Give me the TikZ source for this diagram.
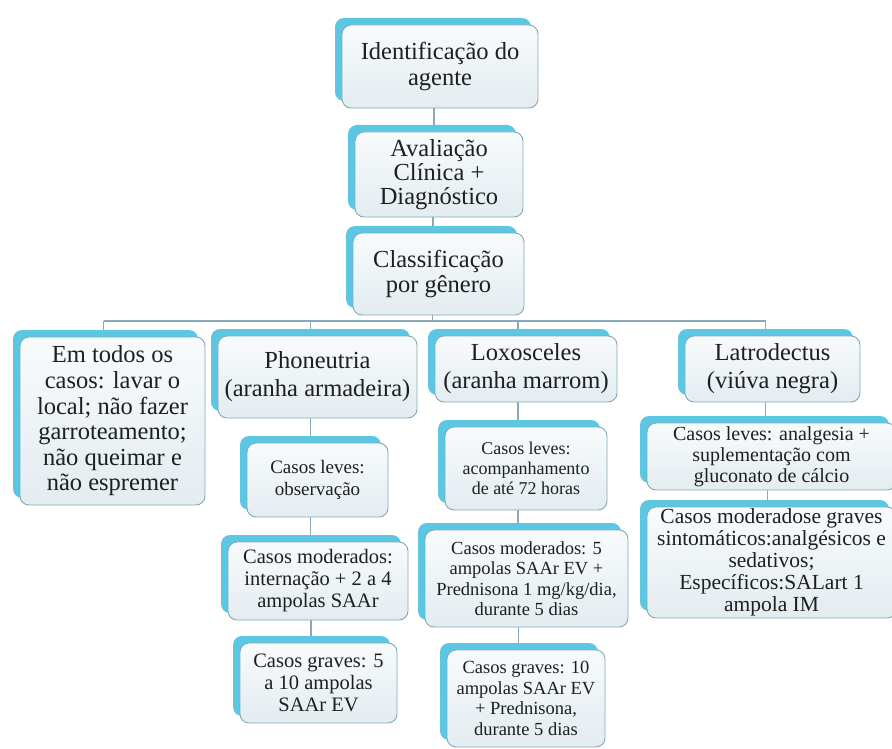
\documentclass[tikz,border=0pt]{standalone}
\usepackage{fontspec}
\setmainfont{Liberation Serif}
\usetikzlibrary{shadows,backgrounds}
\definecolor{bordc}{HTML}{86A9B8}
\definecolor{facetop}{HTML}{F8FBFC}
\definecolor{facebot}{HTML}{E3ECF0}
\definecolor{shadc}{HTML}{5CC7E2}
\definecolor{linec}{HTML}{8AA9B8}
\definecolor{txtc}{HTML}{1F1F1F}
\tikzset{
  box/.style={draw=bordc, line width=0.9pt, rounded corners=9pt,
    top color=facetop, bottom color=facebot, text=txtc, align=center,
    inner sep=1pt,
    general shadow={fill=shadc, shadow xshift=-7pt, shadow yshift=7pt}},
  bigf/.style={font=\fontsize{24.5}{25.5}\selectfont},
  hdrf/.style={font=\fontsize{24.5}{28}\selectfont},
  sz/.style 2 args={minimum width=#1, minimum height=#2},
  conn/.style={draw=linec, line width=1.3pt},
}
\begin{document}
\begin{tikzpicture}[x=1pt,y=-1pt]
\useasboundingbox (0,0) rectangle (892,749);
% top column
\node[box, bigf, sz={196pt}{83pt}] (id) at (440,66.5) {Identificação do\\agente};
\node[box, font=\fontsize{24.5}{24}\selectfont, sz={168pt}{85pt}] (av) at (439,174.5) {Avaliação\\Clínica +\\Diagnóstico};
\node[box, bigf, sz={171pt}{82pt}] (cl) at (438.5,274) {Classificação\\por gênero};
% second row
\node[box, font=\fontsize{24.5}{25.6}\selectfont, sz={185pt}{168pt}] (em) at (112.5,421) {Em todos os\\casos: lavar o\\local; não fazer\\garroteamento;\\não queimar e\\não espremer};
\node[box, hdrf, sz={199pt}{82pt}] (ph) at (317.5,377) {Phoneutria\\(aranha armadeira)};
\node[box, hdrf, sz={182pt}{66pt}] (lo) at (526,369) {Loxosceles\\(aranha marrom)};
\node[box, hdrf, sz={175pt}{66pt}] (la) at (772.5,369) {Latrodectus\\(viúva negra)};
% Phoneutria column
\node[box, font=\fontsize{19}{22}\selectfont, sz={141pt}{74pt}] (ph1) at (317.5,480) {Casos leves:\\observação};
\node[box, font=\fontsize{20.5}{22}\selectfont, sz={180pt}{78pt}] (ph2) at (318,581) {Casos moderados:\\internação + 2 a 4\\ampolas SAAr};
\node[box, font=\fontsize{20.5}{22}\selectfont, sz={157pt}{80pt}] (ph3) at (318.5,683) {Casos graves: 5\\a 10 ampolas\\SAAr EV};
% Loxosceles column
\node[box, font=\fontsize{18}{20}\selectfont, sz={162pt}{83pt}] (lo1) at (526,468.5) {Casos leves:\\acompanhamento\\de até 72 horas};
\node[box, font=\fontsize{18.5}{20.5}\selectfont, sz={203pt}{97pt}] (lo2) at (526.5,578.5) {Casos moderados: 5\\ampolas SAAr EV +\\Prednisona 1 mg/kg/dia,\\durante 5 dias};
\node[box, font=\fontsize{18.5}{20.5}\selectfont, sz={158pt}{97pt}] (lo3) at (526,698.5) {Casos graves: 10\\ampolas SAAr EV\\+ Prednisona,\\durante 5 dias};
% Latrodectus column
\node[box, font=\fontsize{20}{21}\selectfont, sz={249pt}{67pt}] (la1) at (771.5,456.5) {Casos leves: analgesia +\\suplementação com\\gluconato de cálcio};
\node[box, font=\fontsize{21.5}{22}\selectfont, sz={249pt}{111pt}] (la2) at (771.5,562.5) {Casos moderadose graves\\sintomáticos:analgésicos e\\sedativos;\\Específicos:SALart 1\\ampola IM};
\coordinate (bus) at (0,321);
\begin{pgfonlayer}{background}
\fill[white] (0,0) rectangle (892,749);
\draw[conn] ([xshift=-6pt]id.south) -- ([xshift=-6pt]id.south |- av.north);
\draw[conn] ([xshift=-6pt]av.south) -- ([xshift=-6pt]av.south |- cl.north);
\draw[conn] ([xshift=-6pt]cl.south) -- ([xshift=-6pt]cl.south |- bus);
\draw[conn] ([xshift=-9pt]em.north |- bus) -- ([xshift=-7pt]la.north |- bus);
\draw[conn] ([xshift=-9pt]em.north |- bus) -- ([xshift=-9pt]em.north);
\draw[conn] ([xshift=-7pt]ph.north |- bus) -- ([xshift=-7pt]ph.north);
\draw[conn] ([xshift=-8pt]lo.north |- bus) -- ([xshift=-8pt]lo.north);
\draw[conn] ([xshift=-7pt]la.north |- bus) -- ([xshift=-7pt]la.north);
\draw[conn] ([xshift=-7pt]ph.south) -- ([xshift=-7pt]ph.south |- ph1.north);
\draw[conn] ([xshift=-7pt]ph1.south) -- ([xshift=-7pt]ph1.south |- ph2.north);
\draw[conn] ([xshift=-7pt]ph2.south) -- ([xshift=-7pt]ph2.south |- ph3.north);
\draw[conn] ([xshift=-8pt]lo.south) -- ([xshift=-8pt]lo.south |- lo1.north);
\draw[conn] ([xshift=-8pt]lo1.south) -- ([xshift=-8pt]lo1.south |- lo2.north);
\draw[conn] ([xshift=-8pt]lo2.south) -- ([xshift=-8pt]lo2.south |- lo3.north);
\draw[conn] ([xshift=-7pt]la.south) -- ([xshift=-7pt]la.south |- la1.north);
\draw[conn] ([xshift=-4pt]la1.south) -- ([xshift=-4pt]la1.south |- la2.north);
\end{pgfonlayer}
\end{tikzpicture}
\end{document}
